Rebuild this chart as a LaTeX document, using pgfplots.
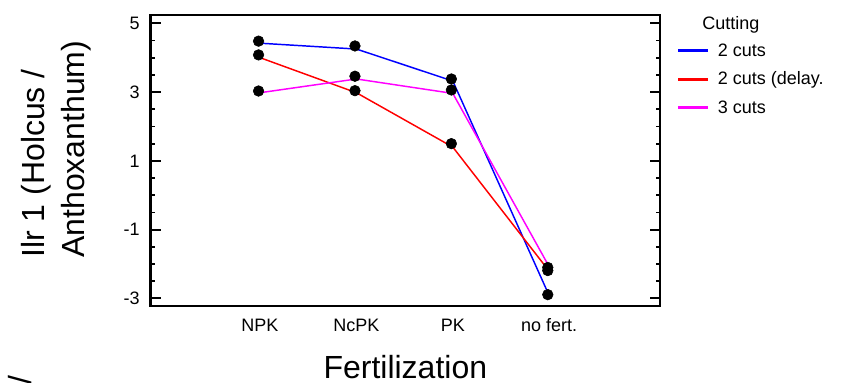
\documentclass[border=0pt]{standalone}
\usepackage{fontspec}
\setmainfont{Liberation Sans}
\usepackage{pgfplots}
\pgfplotsset{compat=1.18}
\definecolor{cblue}{RGB}{0,0,255}
\definecolor{cred}{RGB}{255,0,0}
\definecolor{cmag}{RGB}{255,0,255}
\begin{document}
\begin{tikzpicture}
\useasboundingbox (0,0) rectangle (642pt,286.5pt);
\node[rotate=90, anchor=base west, inner sep=0pt, font=\fontsize{24}{30}\selectfont] at (23.25pt,-2.25pt) {/};
\begin{axis}[
  at={(113pt,57pt)}, anchor=south west,
  scale only axis, width=382pt, height=218.25pt,
  xmin=-1.134, xmax=4.149, ymin=-3.22, ymax=5.24,
  clip=false,
  xtick={0,1,2,3}, xticklabels={NPK,NcPK,PK,no fert.},
  x tick style={draw=none},
  ytick={-3,-1,1,3,5}, yticklabels={-3,-1,1,3,5},
  minor y tick num=3,
  ytick pos=both, yticklabel pos=left,
  tick align=inside,
  major tick length=7.5pt, minor tick length=3pt,
  y tick style={line width=1.4pt, black},
  axis line style={line width=1.8pt},
  tick label style={font=\fontsize{13.5}{16}\selectfont},
  xticklabel style={anchor=base, yshift=-19.3pt},
  yticklabel style={xshift=-4.8pt},
  xlabel={Fertilization},
  xlabel style={at={(rel axis cs:0.5,-0.248)}, anchor=base, font=\fontsize{24}{28}\selectfont, inner sep=0pt, text depth=0pt},
  ylabel={Ilr 1 (Holcus /\\Anthoxanthum)},
  ylabel style={at={(rel axis cs:-0.2547,0.165)}, anchor=north west, align=left, font=\fontsize{24}{30}\selectfont, inner sep=0pt},
  legend style={at={(rel axis cs:1.036,0.912)}, anchor=north west, draw=none, fill=none, inner sep=0pt, outer sep=0pt, row sep=5.7pt,
    font=\fontsize{13.5}{16}\selectfont,
    cells={anchor=west, inner sep=0pt, text height=10pt, text depth=3pt},
    /tikz/every odd column/.append style={column sep=5pt}},
  legend image code/.code={\fill[#1] (0pt,-0.6pt) rectangle (21.5pt,0.6pt);},
]
\addplot[only marks, mark=*, mark size=4pt, black, forget plot] coordinates {
  (-0.015,4.48) (-0.015,4.08) (-0.015,3.03)
  (0.985,4.34) (0.985,3.46) (0.985,3.04)
  (1.985,3.38) (1.985,3.06) (1.985,1.50)
  (2.985,-2.10) (2.985,-2.19) (2.985,-2.89)
};
\addplot[cblue, line width=1.1pt] coordinates {(0,4.42) (1,4.25) (2,3.32) (3,-2.92)};
\addlegendentry{2 cuts}
\addplot[cred, line width=1.1pt] coordinates {(0,4.00) (1,2.98) (2,1.40) (3,-2.21)};
\addlegendentry{2 cuts (delay.}
\addplot[cmag, line width=1.1pt] coordinates {(0,2.98) (1,3.38) (2,2.96) (3,-2.08)};
\addlegendentry{3 cuts}
\node[anchor=base west, inner sep=0pt, font=\fontsize{13.5}{16}\selectfont] at (rel axis cs:1.0825,0.9498) {Cutting};
\end{axis}
\end{tikzpicture}
\end{document}
